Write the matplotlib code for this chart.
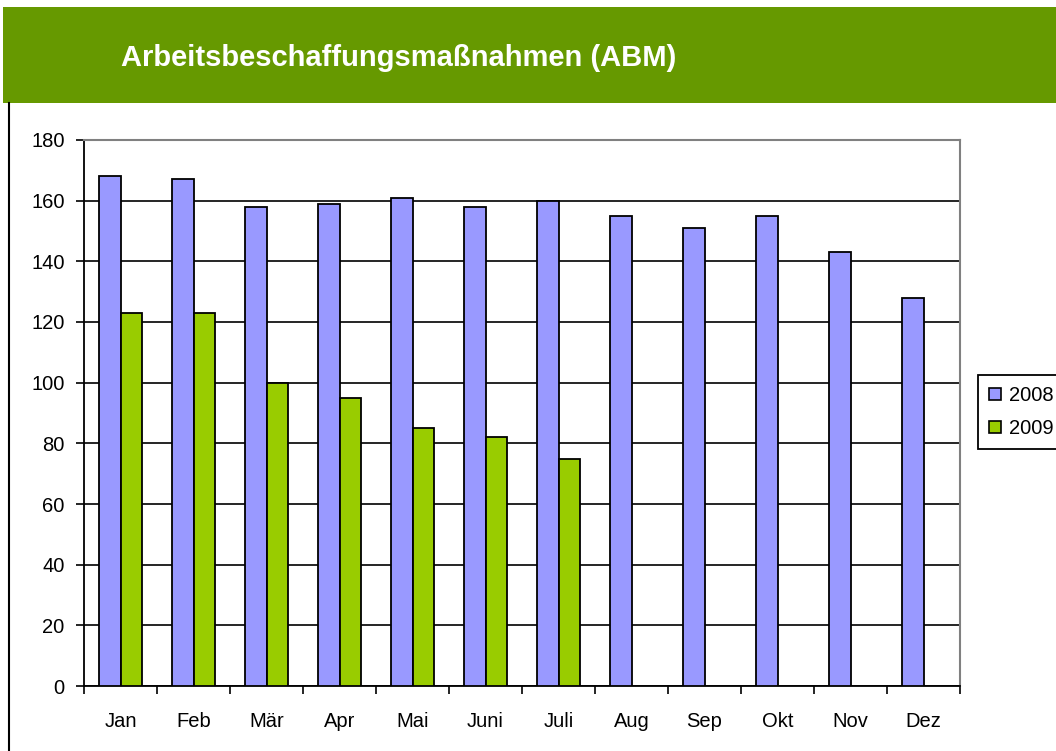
import matplotlib
matplotlib.use("Agg")
import matplotlib.pyplot as plt
from matplotlib.patches import Rectangle
from matplotlib.lines import Line2D
import numpy as np

months = ["Jan", "Feb", "Mär", "Apr", "Mai", "Juni", "Juli", "Aug", "Sep", "Okt", "Nov", "Dez"]
values_2008 = [168, 167, 158, 159, 161, 158, 160, 155, 151, 155, 143, 128]
values_2009 = [123, 123, 100, 95, 85, 82, 75]
series_names = ["2008", "2009"]
title = "Arbeitsbeschaffungsmaßnahmen (ABM)"
yticks = [0, 20, 40, 60, 80, 100, 120, 140, 160, 180]

plt.rcParams['font.family'] = ['Liberation Sans', 'DejaVu Sans']

W, H = 1056, 751
fig = plt.figure(figsize=(W / 100, H / 100), dpi=100)
fig.patch.set_facecolor("white")

def fx(px):
    return px / W

def fy(py):
    return 1 - py / H

# header band
fig.patches.append(Rectangle((fx(3), fy(103)), fx(1056) - fx(3), fy(7) - fy(103),
                             transform=fig.transFigure, facecolor="#669900",
                             edgecolor="none", zorder=0))
fig.text(fx(121), fy(58), title, color="white", fontsize=21, fontweight="bold",
         va="center", ha="left")
# left black border line
fig.lines.append(Line2D([fx(8.5), fx(8.5)], [fy(103), fy(751)], transform=fig.transFigure,
                        color="black", linewidth=1.5))

# axes
left, right, top, bottom = 84, 960, 140, 686
ax = fig.add_axes([fx(left), fy(bottom), fx(right) - fx(left), fy(top) - fy(bottom)])

x = np.arange(len(months))
bw = 0.288
ax.bar(x[:len(values_2008)] - bw / 2, values_2008, width=bw, color="#9999FF",
       edgecolor="black", linewidth=1.3, label=series_names[0], zorder=3)
ax.bar(x[:len(values_2009)] + bw / 2, values_2009, width=bw, color="#99CC00",
       edgecolor="black", linewidth=1.3, label=series_names[1], zorder=3)

ax.set_xlim(-0.5, len(months) - 0.5)
ax.set_ylim(0, 180)
ax.set_yticks(yticks)
ax.set_yticklabels([str(v) for v in yticks], fontsize=14.5)
ax.yaxis.grid(True, color="black", linewidth=1.2, zorder=0)
ax.set_axisbelow(True)

ax.set_xticks(x)
ax.set_xticklabels(months, fontsize=14.5)
ax.set_xticks(np.arange(len(months) + 1) - 0.5, minor=True)
ax.tick_params(axis="x", which="major", length=0, pad=19)
ax.tick_params(axis="x", which="minor", length=6, width=1.2, direction="out", color="black")
ax.tick_params(axis="y", length=6, width=1.2, direction="out", pad=8)

for s in ["left", "bottom"]:
    ax.spines[s].set_color("black")
    ax.spines[s].set_linewidth(1.3)
for s in ["top", "right"]:
    ax.spines[s].set_color("#808080")
    ax.spines[s].set_linewidth(1.5)

handles = [Rectangle((0, 0), 1, 1, facecolor="#9999FF", edgecolor="black", linewidth=1.2),
           Rectangle((0, 0), 1, 1, facecolor="#99CC00", edgecolor="black", linewidth=1.2)]
leg = fig.legend(handles, series_names, loc="upper left",
                 bbox_to_anchor=(fx(978), fy(375)), fontsize=14.5, frameon=True,
                 fancybox=False, edgecolor="black", framealpha=1,
                 handlelength=0.6, handleheight=0.6,
                 handletextpad=0.4, borderpad=0.55, labelspacing=0.7, borderaxespad=0)
leg.get_frame().set_linewidth(1.3)

fig.savefig("out.png", dpi=100)
